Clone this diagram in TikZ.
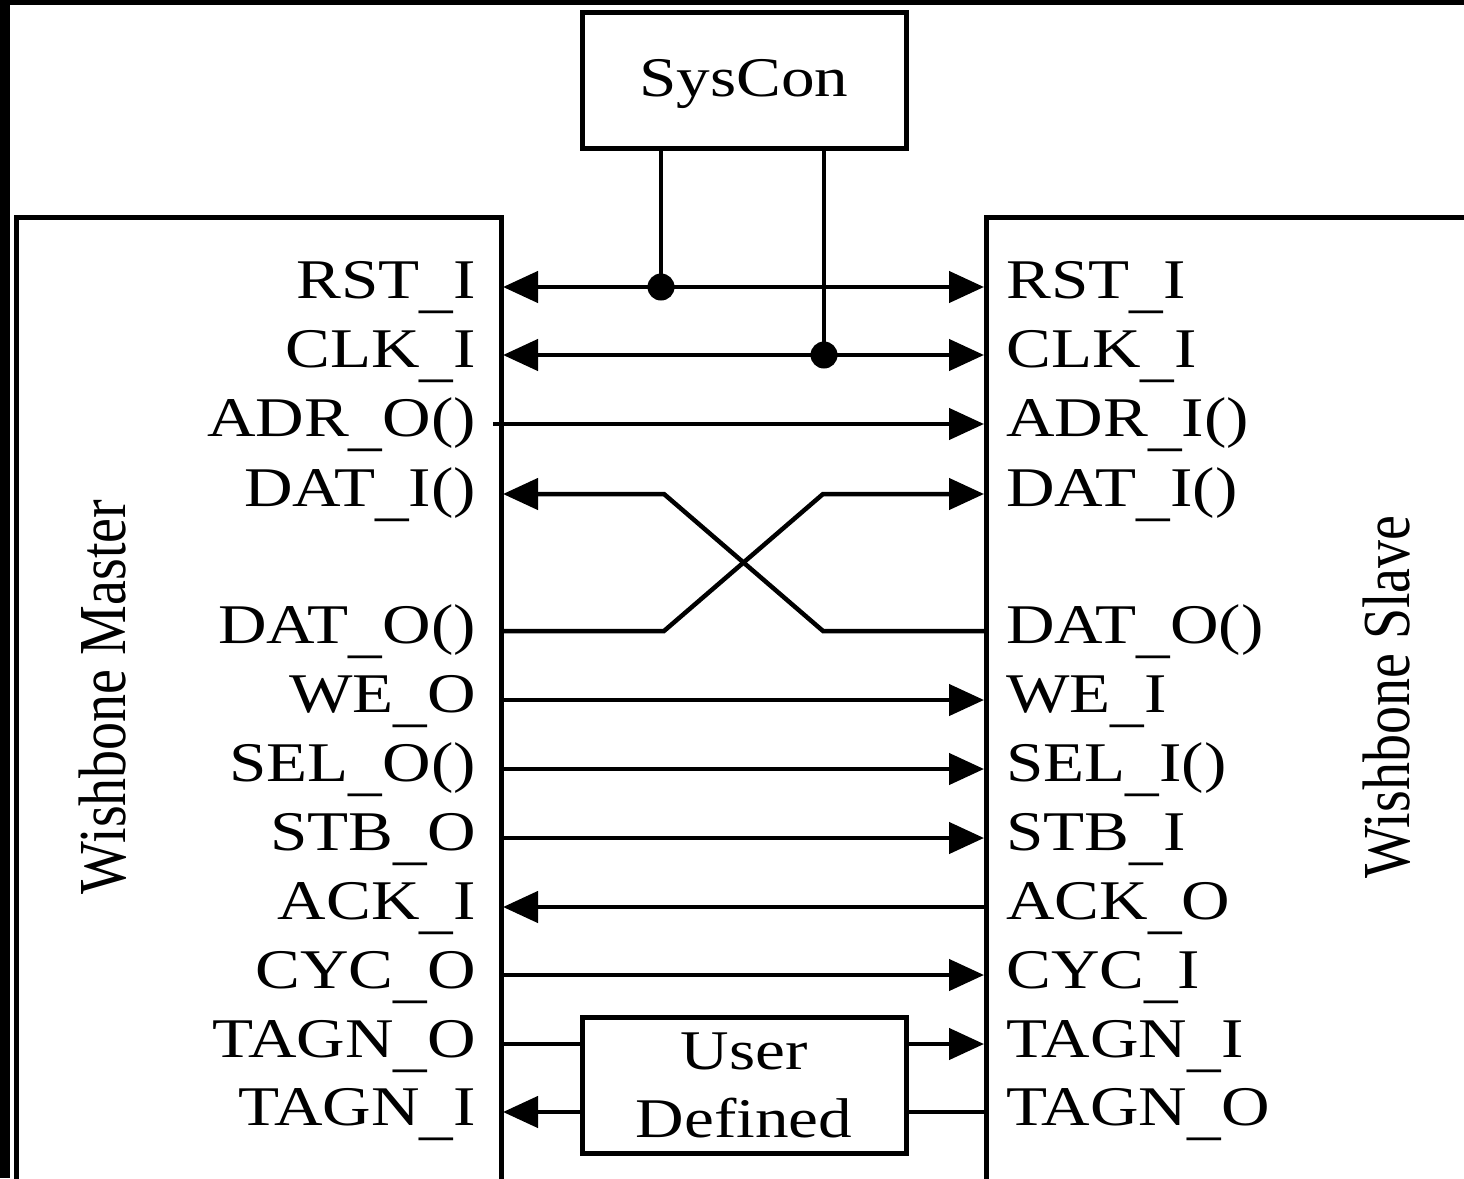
\documentclass[tikz,border=0pt]{standalone}
\usepackage{fontspec}
\usepackage{graphicx}
\setmainfont{Liberation Serif}
\usetikzlibrary{arrows.meta}
\newcommand{\hstr}[1]{\scalebox{1.2}[1]{#1}}
\newcommand{\vstr}[1]{\scalebox{1}[1.2]{#1}}
\newcommand{\us}{\raisebox{-8pt}{\_}}
\begin{document}
\begin{tikzpicture}[x=1pt,y=-1pt,
  wire/.style={line width=4.5pt, line join=miter},
  boxline/.style={line width=5pt},
  tipend/.style={-{Triangle[length=35pt,width=31pt]}},
  tipboth/.style={{Triangle[length=35pt,width=31pt]}-{Triangle[length=35pt,width=31pt]}},
  lab/.style={inner sep=0pt, font=\fontsize{56}{68}\selectfont},
  mlab/.style={lab, anchor=base east},
  slab/.style={lab, anchor=base west},
  blockbox/.style={draw, line width=5pt, minimum width=324pt, minimum height=136pt, inner sep=0pt, align=center, font=\fontsize{56}{68}\selectfont, fill=white},
  junction/.style={circle, fill=black, inner sep=0pt, minimum size=27pt}
]
\useasboundingbox (0,0) rectangle (1464,1178);
\clip (0,0) rectangle (1464,1178);
\fill[white] (0,0) rectangle (1464,1178);
% outer frame bands
\fill[black] (0,0) rectangle (1464,5);
\fill[black] (0,0) rectangle (10,1178);

% master and slave boxes (open at bottom / right)
\draw[boxline] (16,1200) -- (16,217) -- (501,217) -- (501,1200);
\draw[boxline] (986,1200) -- (986,217) -- (1480,217);

% blocks
\node[blockbox, text depth=4pt] (SC) at (744,80) {\hstr{SysCon}};
\node[blockbox] (UD) at (744,1085) {\hstr{User}\\\hstr{Defined}};

% vertical titles
\node[lab, rotate=90, anchor=base] (WM) at (125,697) {\vstr{Wishbone Master}};
\node[lab, rotate=90, anchor=base] (WS) at (1409,697) {\vstr{Wishbone Slave}};

% master labels
\node[mlab] (lmRST) at (476,298) {\hstr{RST\us I}};
\node[mlab] (lmCLK) at (476,367) {\hstr{CLK\us I}};
\node[mlab] (lmADR) at (476,436) {\hstr{ADR\us O()}};
\node[mlab] (lmDATI) at (476,506) {\hstr{DAT\us I()}};
\node[mlab] (lmDATO) at (476,643) {\hstr{DAT\us O()}};
\node[mlab] (lmWE) at (476,712) {\hstr{WE\us O}};
\node[mlab] (lmSEL) at (476,781) {\hstr{SEL\us O()}};
\node[mlab] (lmSTB) at (476,850) {\hstr{STB\us O}};
\node[mlab] (lmACK) at (476,919) {\hstr{ACK\us I}};
\node[mlab] (lmCYC) at (476,988) {\hstr{CYC\us O}};
\node[mlab] (lmTO) at (476,1057) {\hstr{TAGN\us O}};
\node[mlab] (lmTI) at (476,1125) {\hstr{TAGN\us I}};

% slave labels
\node[slab] (lsRST) at (1006,298) {\hstr{RST\us I}};
\node[slab] (lsCLK) at (1006,367) {\hstr{CLK\us I}};
\node[slab] (lsADR) at (1006,436) {\hstr{ADR\us I()}};
\node[slab] (lsDATI) at (1006,506) {\hstr{DAT\us I()}};
\node[slab] (lsDATO) at (1006,643) {\hstr{DAT\us O()}};
\node[slab] (lsWE) at (1006,712) {\hstr{WE\us I}};
\node[slab] (lsSEL) at (1006,781) {\hstr{SEL\us I()}};
\node[slab] (lsSTB) at (1006,850) {\hstr{STB\us I}};
\node[slab] (lsACK) at (1006,919) {\hstr{ACK\us O}};
\node[slab] (lsCYC) at (1006,988) {\hstr{CYC\us I}};
\node[slab] (lsTI) at (1006,1057) {\hstr{TAGN\us I}};
\node[slab] (lsTO) at (1006,1125) {\hstr{TAGN\us O}};

% pin coordinates
\coordinate (mRST) at (503,287);  \coordinate (sRST) at (984,287);
\coordinate (mCLK) at (503,355);  \coordinate (sCLK) at (984,355);
\coordinate (mADR) at (493,424);  \coordinate (sADR) at (984,424);
\coordinate (mDATI) at (503,494); \coordinate (sDATI) at (984,494);
\coordinate (mDATO) at (501,631); \coordinate (sDATO) at (986,631);
\coordinate (mWE) at (501,700);   \coordinate (sWE) at (984,700);
\coordinate (mSEL) at (501,769);  \coordinate (sSEL) at (984,769);
\coordinate (mSTB) at (501,838);  \coordinate (sSTB) at (984,838);
\coordinate (mACK) at (503,907);  \coordinate (sACK) at (986,907);
\coordinate (mCYC) at (501,975);  \coordinate (sCYC) at (984,975);
\coordinate (mTO) at (501,1044);  \coordinate (sTI) at (984,1044);
\coordinate (mTI) at (503,1112);  \coordinate (sTO) at (986,1112);
% crossing bends
\coordinate (bA) at (664,494); \coordinate (bB) at (823,631);
\coordinate (bC) at (664,631); \coordinate (bD) at (823,494);

% junction dots
\coordinate (jR) at (661,287);
\coordinate (jC) at (824,355);

% connectors
\draw[wire, tipboth] (mRST) -- (sRST);
\draw[wire, tipboth] (mCLK) -- (sCLK);
\draw[wire] (SC.south -| jR) -- (jR);
\draw[wire] (SC.south -| jC) -- (jC);
\draw[wire, tipend] (mADR) -- (sADR);
\draw[wire, tipend] (sDATO) -- (bB) -- (bA) -- (mDATI);
\draw[wire, tipend] (mDATO) -- (bC) -- (bD) -- (sDATI);
\draw[wire, tipend] (mWE) -- (sWE);
\draw[wire, tipend] (mSEL) -- (sSEL);
\draw[wire, tipend] (mSTB) -- (sSTB);
\draw[wire, tipend] (sACK) -- (mACK);
\draw[wire, tipend] (mCYC) -- (sCYC);
\draw[wire] (mTO) -- (UD.west |- mTO);
\draw[wire, tipend] (UD.east |- sTI) -- (sTI);
\draw[wire, tipend] (UD.west |- mTI) -- (mTI);
\draw[wire] (sTO) -- (UD.east |- sTO);

\node[junction] (dR) at (jR) {};
\node[junction] (dC) at (jC) {};
\end{tikzpicture}
\end{document}
